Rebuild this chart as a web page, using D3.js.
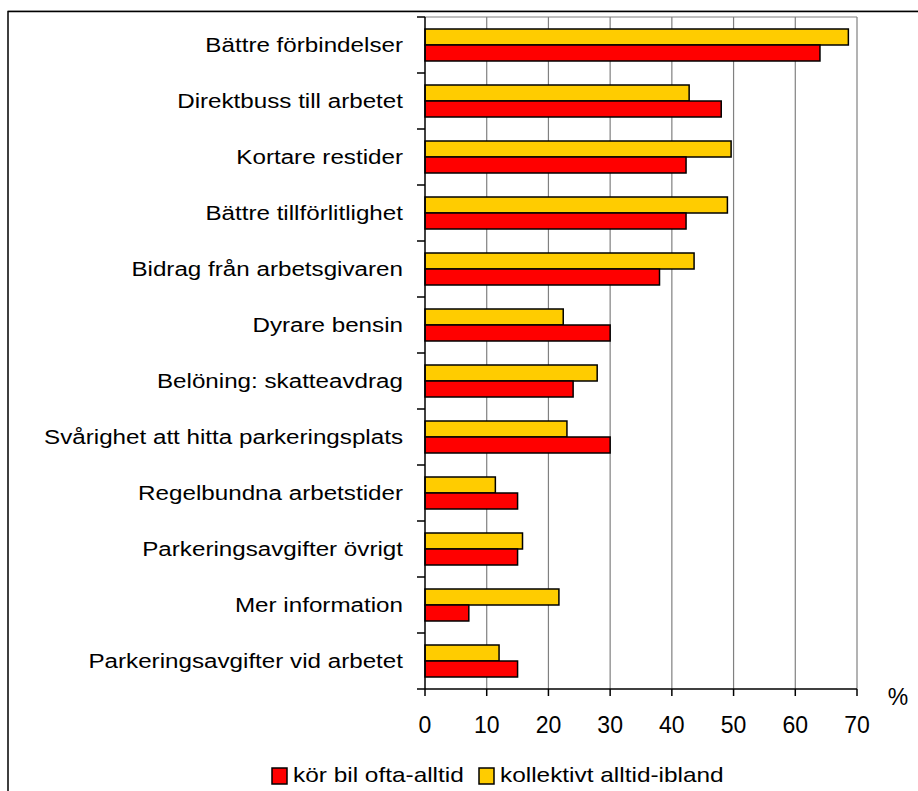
<!DOCTYPE html>
<html>
<head>
<meta charset="utf-8">
<script src="https://cdn.jsdelivr.net/npm/d3@7"></script>
<style>
  body { margin: 0; background: #fff; }
  text { font-family: "Liberation Sans", Arial, sans-serif; fill: #000; }
</style>
</head>
<body>
<script>
// data
const categories = [
  'Bättre förbindelser',
  'Direktbuss till arbetet',
  'Kortare restider',
  'Bättre tillförlitlighet',
  'Bidrag från arbetsgivaren',
  'Dyrare bensin',
  'Belöning: skatteavdrag',
  'Svårighet att hitta parkeringsplats',
  'Regelbundna arbetstider',
  'Parkeringsavgifter övrigt',
  'Mer information',
  'Parkeringsavgifter vid arbetet'
]
const korBil = [64, 48, 42.3, 42.3, 38, 30, 24, 30, 15, 15, 7.1, 15]
const kollektivt = [68.6, 42.8, 49.6, 49, 43.6, 22.4, 27.9, 23, 11.4, 15.8, 21.7, 12]
const seriesNames = ['kör bil ofta-alltid', 'kollektivt alltid-ibland']
const xTicks = [0, 10, 20, 30, 40, 50, 60, 70]

const red = '#FF0000'
const yellow = '#FFCC00'
const grid = '#808080'

const W = 918, H = 791
const plotL = 425, plotR = 857, plotT = 17, plotB = 689

const svg = d3.select('body').append('svg')
    .attr('width', W)
    .attr('height', H)

// outer chart border (runs off the page right and bottom)
svg.append('line')
    .attr('x1', 8).attr('y1', 10.5).attr('x2', W).attr('y2', 10.5)
    .attr('stroke', '#c8c8c8').attr('stroke-width', 1)
svg.append('rect')
    .attr('x', 8).attr('y', 11.5)
    .attr('width', 2000).attr('height', 2000)
    .attr('fill', 'none')
    .attr('stroke', '#000')
    .attr('stroke-width', 1.5)

const x = d3.scaleLinear().domain([0, 70]).range([plotL, plotR])
const y = d3.scaleBand().domain(categories).range([plotT, plotB])
    .paddingInner(24 / 56).paddingOuter(12 / 56)
const yInner = d3.scaleBand().domain(['kollektivt', 'korBil']).range([0, y.bandwidth()])

const plot = svg.append('g')

// gridlines
plot.selectAll('line.grid')
    .data(xTicks.slice(1))
    .enter().append('line')
    .attr('x1', d => x(d)).attr('x2', d => x(d))
    .attr('y1', plotT).attr('y2', plotB)
    .attr('stroke', grid).attr('stroke-width', 1.2)

// top border of plot area
plot.append('line')
    .attr('x1', plotL).attr('x2', plotR)
    .attr('y1', plotT).attr('y2', plotT)
    .attr('stroke', grid).attr('stroke-width', 1.2)

// bars
const rows = categories.map((c, i) => ({ c: c, korBil: korBil[i], kollektivt: kollektivt[i] }))
const groups = plot.selectAll('g.cat')
    .data(rows)
    .enter().append('g')
    .attr('transform', d => 'translate(0,' + y(d.c) + ')')

groups.append('rect')
    .attr('x', x(0))
    .attr('y', yInner('kollektivt'))
    .attr('width', d => x(d.kollektivt) - x(0))
    .attr('height', yInner.bandwidth())
    .attr('fill', yellow)
    .attr('stroke', '#000')
    .attr('stroke-width', 1.5)

groups.append('rect')
    .attr('x', x(0))
    .attr('y', yInner('korBil'))
    .attr('width', d => x(d.korBil) - x(0))
    .attr('height', yInner.bandwidth())
    .attr('fill', red)
    .attr('stroke', '#000')
    .attr('stroke-width', 1.5)

// category labels (stretched a little, like the original)
groups.append('text')
    .attr('transform', 'translate(403,' + (y.bandwidth() / 2) + ') scale(1.21,1)')
    .attr('text-anchor', 'end')
    .attr('dy', '0.35em')
    .style('font-size', '20px')
    .text(d => d.c)

// y axis: line and ticks at band boundaries
const step = y.step()
const bounds = d3.range(categories.length + 1).map(i => plotT + i * step)
plot.append('line')
    .attr('x1', plotL).attr('x2', plotL)
    .attr('y1', plotT).attr('y2', plotB)
    .attr('stroke', '#000').attr('stroke-width', 1.5)
plot.selectAll('line.ytick')
    .data(bounds)
    .enter().append('line')
    .attr('x1', plotL - 8).attr('x2', plotL)
    .attr('y1', d => d).attr('y2', d => d)
    .attr('stroke', '#000').attr('stroke-width', 1.5)

// x axis
plot.append('line')
    .attr('x1', plotL).attr('x2', plotR)
    .attr('y1', plotB).attr('y2', plotB)
    .attr('stroke', '#000').attr('stroke-width', 1.5)
plot.selectAll('line.xtick')
    .data(xTicks)
    .enter().append('line')
    .attr('x1', d => x(d)).attr('x2', d => x(d))
    .attr('y1', plotB).attr('y2', plotB + 7)
    .attr('stroke', '#000').attr('stroke-width', 1.5)
plot.selectAll('text.xlab')
    .data(xTicks)
    .enter().append('text')
    .attr('x', d => x(d))
    .attr('y', 733)
    .attr('text-anchor', 'middle')
    .style('font-size', '23px')
    .text(d => d)

svg.append('text')
    .attr('x', 898).attr('y', 705)
    .attr('text-anchor', 'middle')
    .style('font-size', '23px')
    .text('%')

// legend
const legend = [
  { name: seriesNames[0], color: red, x: 272 },
  { name: seriesNames[1], color: yellow, x: 479 }
]
const lg = svg.selectAll('g.legend')
    .data(legend)
    .enter().append('g')
    .attr('transform', d => 'translate(' + d.x + ',768)')
lg.append('rect')
    .attr('width', 15).attr('height', 16)
    .attr('fill', d => d.color)
    .attr('stroke', '#000').attr('stroke-width', 1.5)
lg.append('text')
    .attr('transform', 'translate(21,14) scale(1.22,1)')
    .style('font-size', '20px')
    .text(d => d.name)
</script>
</body>
</html>
